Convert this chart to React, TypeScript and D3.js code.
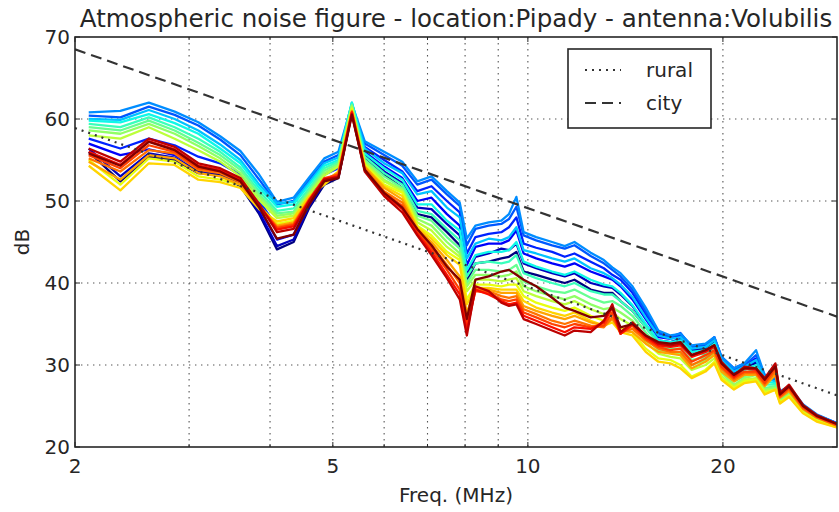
import React from "react";
import * as d3 from "d3";

const freqs = [2.1, 2.35, 2.6, 2.85, 3.1, 3.35, 3.6, 3.85, 4.1, 4.35, 4.6, 4.85, 5.1, 5.35,
  5.6, 6.0, 6.4, 6.75, 7.1, 7.5, 7.85, 8.05, 8.3, 8.7, 9.1, 9.35, 9.6, 9.85, 10.3, 10.9, 11.4, 11.8, 12.5, 13.1, 13.5, 13.9, 14.5, 15.2, 15.9,
  16.6, 17.2, 17.9, 18.8, 19.4, 19.9, 20.8, 21.6, 22.5, 23.2, 24.1, 24.5, 25.3, 26.6, 27.9, 30.0];

const s00 = [56.0, 52.4, 55.4, 55.0, 53.4, 53.2, 51.8, 48.4, 44.1, 45.0, 49.2, 52.0, 52.8, 60.8,
  55.2, 53.2, 51.6, 48.4, 48.0, 46.2, 44.6,
  40.2, 42.4, 42.6, 43.0, 43.2, 43.8, 41.4, 41.0, 40.4, 40.0, 40.4, 39.2, 38.8, 38.8, 37.8, 36.6, 34.6, 32.8,
  32.6, 33.0, 31.6, 32.0, 32.8, 30.4, 29.0, 29.8, 30.2, 28.2, 28.2, 26.4, 27.0, 24.9, 23.8, 22.8];
const s01 = [56.4, 53.0, 55.8, 55.3, 53.6, 53.4, 52.0, 48.6, 44.5, 45.3, 49.4, 52.2, 53.0, 61.0,
  55.6, 53.6, 52.2, 49.2, 49.0, 47.2, 45.8,
  41.0, 43.2, 43.6, 44.2, 44.0, 44.8, 42.4, 41.8, 41.2, 40.8, 41.2, 40.0, 39.6, 39.4, 38.6, 37.2, 34.9, 33.0,
  32.8, 33.2, 31.8, 32.2, 33.0, 30.6, 29.2, 29.8, 30.4, 28.4, 28.2, 26.5, 27.1, 25.0, 23.8, 22.8];
const s02 = [57.0, 55.6, 56.3, 55.6, 54.0, 53.6, 52.3, 49.0, 45.3, 45.9, 49.8, 52.5, 53.4, 61.2,
  56.0, 54.2, 52.8, 50.0, 50.4, 48.4, 47.0,
  42.2, 44.4, 44.8, 44.8, 45.2, 46.4, 43.6, 43.0, 42.4, 42.0, 42.4, 41.4, 40.8, 40.4, 39.6, 38.0, 35.6, 33.4,
  33.2, 33.6, 32.0, 32.4, 33.2, 30.8, 29.4, 30.0, 30.8, 28.6, 28.4, 26.6, 27.2, 25.1, 23.9, 22.9];
const s03 = [57.6, 56.4, 57.6, 56.8, 55.4, 54.6, 53.2, 50.0, 46.8, 47.3, 50.6, 53.2, 54.0, 61.4,
  56.6, 55.0, 53.6, 51.2, 51.8, 50.0, 48.6,
  43.6, 45.6, 46.0, 46.2, 46.8, 48.0, 44.8, 44.3, 43.8, 43.2, 43.6, 42.6, 41.8, 41.0, 40.4, 38.8, 36.2, 33.8,
  33.4, 33.8, 32.2, 32.4, 33.4, 31.0, 29.6, 30.2, 30.6, 28.8, 28.4, 26.7, 27.3, 25.1, 23.9, 22.9];
const s04 = [60.4, 60.2, 61.5, 60.5, 59.2, 57.5, 55.6, 52.6, 49.6, 50.0, 52.6, 54.8, 55.6, 61.5,
  57.0, 55.6, 54.3, 52.0, 52.6, 50.8, 49.4,
  44.6, 46.6, 47.0, 47.2, 47.8, 49.3, 45.8, 45.2, 44.6, 44.2, 44.6, 43.3, 42.4, 41.6, 40.8, 39.2, 36.6, 34.0,
  33.4, 33.9, 32.2, 32.4, 33.2, 30.8, 29.4, 30.0, 31.2, 28.6, 28.2, 26.6, 27.2, 25.0, 23.9, 22.8];
const s05 = [60.8, 61.0, 62.0, 60.9, 59.6, 57.9, 56.1, 53.2, 49.9, 50.4, 52.9, 55.2, 56.0, 61.8,
  57.3, 56.0, 54.8, 52.4, 53.0, 51.2, 49.8,
  45.4, 47.0, 47.4, 47.6, 48.4, 50.5, 46.2, 45.6, 45.0, 44.5, 45.0, 43.7, 42.8, 41.9, 41.2, 39.6, 37.0, 34.2,
  33.6, 33.8, 32.4, 32.6, 33.4, 31.0, 29.6, 30.2, 31.8, 28.8, 28.4, 26.8, 27.4, 25.2, 24.0, 22.9];
const s06 = [60.0, 59.9, 61.1, 60.0, 58.6, 56.9, 55.0, 52.0, 49.7, 49.9, 52.3, 54.6, 55.3, 62.0,
  56.4, 54.6, 53.4, 50.8, 51.2, 49.2, 48.0,
  43.0, 44.8, 45.4, 45.2, 45.6, 46.8, 44.0, 43.6, 43.0, 42.6, 43.0, 41.8, 41.2, 40.6, 39.8, 38.3, 35.8, 33.6,
  33.2, 33.4, 32.0, 32.2, 33.0, 30.6, 29.2, 29.8, 30.6, 28.4, 28.0, 26.4, 27.0, 24.9, 23.8, 22.8];
const s07 = [59.8, 59.6, 60.6, 59.5, 58.2, 56.4, 54.6, 51.6, 49.3, 49.6, 52.0, 54.3, 55.0, 62.0,
  55.8, 54.0, 52.6, 49.6, 49.6, 47.6, 46.4,
  41.6, 43.4, 43.8, 43.8, 44.0, 45.0, 42.6, 42.0, 41.4, 41.0, 41.4, 40.4, 39.8, 39.6, 38.8, 37.3, 35.0, 33.0,
  32.8, 33.0, 31.6, 31.8, 32.6, 30.2, 28.8, 29.4, 30.0, 28.0, 27.8, 26.2, 26.8, 24.8, 23.7, 22.8];
const s08 = [59.4, 59.0, 60.2, 59.0, 57.6, 56.0, 54.1, 51.2, 48.8, 49.1, 51.6, 54.0, 54.8, 61.8,
  55.4, 53.4, 52.0, 48.8, 48.4, 46.6, 45.2,
  40.8, 42.4, 42.6, 42.4, 42.6, 43.4, 41.2, 40.6, 40.0, 39.6, 40.0, 39.0, 38.6, 38.6, 37.8, 36.6, 34.6, 32.6,
  32.4, 32.6, 31.2, 31.4, 32.2, 29.8, 28.4, 29.0, 29.6, 27.6, 27.6, 26.0, 26.6, 24.6, 23.6, 22.7];
const s09 = [59.0, 58.6, 59.8, 58.6, 57.1, 55.6, 53.8, 50.8, 48.5, 48.7, 51.3, 53.7, 54.6, 61.7,
  55.0, 53.0, 51.6, 48.2, 47.6, 45.6, 44.2,
  40.0, 41.6, 41.6, 41.4, 41.6, 42.2, 40.2, 39.6, 39.0, 38.8, 39.2, 38.2, 37.6, 37.8, 37.2, 36.0, 34.0, 32.2,
  32.0, 32.0, 30.6, 31.0, 31.8, 29.4, 28.0, 28.6, 29.2, 27.2, 27.4, 25.8, 26.4, 24.5, 23.5, 22.6];
const s10 = [58.6, 58.2, 59.4, 58.2, 56.7, 55.2, 53.4, 50.5, 48.2, 48.5, 51.0, 53.4, 54.4, 61.6,
  54.8, 52.6, 51.4, 47.8, 47.0, 45.0, 43.6,
  39.6, 41.0, 41.0, 40.8, 41.0, 41.4, 39.6, 39.0, 38.4, 38.0, 38.4, 37.4, 36.8, 37.0, 36.4, 35.4, 33.4, 31.8,
  31.6, 31.4, 30.0, 30.6, 31.4, 29.0, 27.6, 28.4, 28.8, 27.0, 27.2, 25.6, 26.4, 24.4, 23.4, 22.5];
const s11 = [58.0, 57.6, 59.0, 57.6, 56.2, 54.8, 53.0, 50.1, 47.9, 48.2, 50.8, 53.1, 54.2, 61.4,
  54.6, 52.4, 51.2, 47.4, 46.4, 44.4, 43.2,
  39.0, 40.4, 40.4, 40.2, 40.4, 40.6, 39.0, 38.4, 37.8, 37.4, 37.8, 36.8, 36.2, 36.4, 35.6, 34.8, 32.8, 31.4,
  31.0, 30.8, 29.4, 30.0, 30.8, 28.6, 27.4, 28.2, 28.4, 26.8, 27.0, 25.5, 26.3, 24.3, 23.3, 22.5];
const s12 = [55.0, 52.0, 55.2, 54.8, 53.0, 52.6, 52.0, 49.4, 47.2, 47.6, 50.4, 52.2, 53.6, 61.2,
  54.4, 52.0, 51.0, 47.0, 45.8, 43.8, 42.8,
  38.0, 39.8, 39.8, 39.6, 39.8, 39.8, 38.4, 37.6, 37.0, 36.6, 37.0, 36.0, 35.4, 35.6, 34.6, 34.0, 32.0, 30.8,
  30.6, 30.0, 28.6, 29.4, 30.4, 28.4, 27.2, 28.0, 28.2, 26.6, 27.0, 25.4, 26.2, 24.2, 23.2, 22.4];
const s13 = [54.3, 51.3, 54.6, 54.4, 52.6, 52.3, 51.6, 49.0, 47.5, 47.9, 50.6, 52.0, 53.4, 61.0,
  54.2, 51.8, 50.6, 46.8, 45.4, 43.4, 42.2,
  37.4, 39.4, 39.4, 39.2, 39.2, 39.2, 37.8, 37.0, 36.4, 36.0, 36.4, 35.4, 34.8, 35.2, 34.0, 33.6, 31.6, 30.4,
  30.2, 29.6, 28.4, 29.2, 30.2, 28.2, 27.0, 27.8, 28.0, 26.4, 27.0, 25.3, 26.1, 24.1, 23.1, 22.4];
const s14 = [54.8, 52.6, 55.6, 55.2, 53.4, 53.0, 52.0, 49.2, 47.0, 47.4, 50.3, 52.4, 53.5, 61.0,
  54.2, 51.6, 50.2, 46.6, 45.0, 42.8, 40.8,
  36.4, 39.4, 39.2, 38.8, 38.8, 38.8, 37.2, 36.6, 36.0, 35.6, 36.0, 35.2, 34.8, 35.6, 34.2, 34.0, 32.6, 31.6,
  31.4, 31.2, 29.6, 30.4, 31.2, 29.2, 28.0, 28.8, 28.8, 27.4, 28.8, 26.0, 26.8, 24.6, 23.6, 22.6];
const s15 = [55.2, 53.6, 56.2, 55.8, 53.8, 53.4, 52.3, 49.4, 46.8, 47.2, 50.2, 52.6, 53.3, 60.9,
  54.0, 51.2, 49.8, 46.4, 44.6, 42.2, 40.0,
  35.6, 39.2, 39.0, 38.4, 38.2, 38.4, 36.8, 36.2, 35.4, 35.0, 35.4, 34.8, 34.6, 35.8, 34.0, 34.4, 33.0, 32.0,
  31.6, 31.6, 30.0, 30.8, 31.6, 29.6, 28.2, 29.0, 29.0, 27.6, 29.2, 26.1, 27.0, 24.7, 23.6, 22.6];
const s16 = [55.6, 54.0, 56.8, 56.0, 54.0, 53.6, 52.4, 49.3, 46.7, 47.1, 50.2, 52.8, 53.2, 60.8,
  53.8, 51.0, 49.4, 46.2, 44.2, 41.6, 39.2,
  35.0, 39.0, 38.8, 38.0, 37.8, 38.0, 36.4, 35.8, 35.0, 34.6, 35.0, 34.6, 34.8, 36.4, 33.8, 34.8, 33.2, 32.2,
  31.8, 32.0, 30.4, 31.2, 31.8, 29.8, 28.4, 29.2, 29.2, 27.8, 29.6, 26.2, 27.2, 24.8, 23.7, 22.7];
const s17 = [56.0, 54.4, 57.3, 56.3, 54.3, 53.8, 52.6, 49.5, 46.5, 46.9, 50.1, 52.7, 53.0, 60.8,
  53.8, 50.8, 49.0, 46.0, 43.8, 41.0, 38.6,
  34.2, 39.2, 38.6, 37.8, 37.4, 37.6, 36.0, 35.4, 34.6, 34.0, 34.6, 34.4, 35.2, 37.0, 33.8, 35.0, 33.4, 32.4,
  32.2, 32.4, 31.0, 31.6, 32.2, 30.2, 28.6, 29.6, 29.4, 28.2, 30.0, 26.4, 27.4, 25.0, 23.8, 22.8];
const s18 = [56.4, 54.8, 57.6, 56.6, 54.6, 54.0, 52.8, 49.6, 46.2, 46.6, 50.0, 52.6, 52.9, 60.6,
  53.6, 50.6, 48.6, 45.8, 43.4, 40.6, 38.0,
  33.6, 39.6, 39.0, 37.6, 37.2, 37.4, 35.6, 35.0, 34.2, 33.6, 34.2, 34.0, 35.4, 37.4, 34.0, 35.2, 33.6, 32.6,
  32.4, 32.6, 31.2, 31.8, 32.4, 30.4, 28.8, 29.8, 29.6, 28.4, 30.2, 26.6, 27.6, 25.1, 23.9, 22.8];
const s19 = [55.8, 54.3, 57.2, 56.2, 54.2, 53.6, 52.4, 49.2, 45.4, 45.9, 49.6, 52.4, 52.8, 60.5,
  53.8, 51.0, 49.2, 46.6, 44.6, 42.0, 40.4,
  35.6, 40.4, 40.8, 41.4, 41.6, 41.0, 40.4, 39.6, 38.2, 37.0, 36.6, 35.8, 36.0, 37.0, 34.6, 35.0, 33.6, 32.8,
  32.6, 32.8, 31.2, 31.8, 32.4, 30.2, 28.8, 29.6, 29.6, 28.2, 29.8, 26.4, 27.4, 25.0, 23.8, 22.8];

const seriesList = [s00, s01, s02, s03, s04, s05, s06, s07, s08, s09, s10, s11, s12, s13, s14, s15, s16, s17, s18, s19];

const refFreqs = [2, 30];
const ruralLevels = [58.9, 26.3];
const cityLevels = [68.5, 35.9];

const xMajorTicks = [2, 5, 10, 20];
const xMinorTicks = [3, 4, 6, 7, 8, 9];
const xGridValues = [3, 4, 5, 6, 7, 8, 9, 10, 20];
const yTicks = [20, 30, 40, 50, 60, 70];
const yGridValues = [30, 40, 50, 60];
const legendLabels = ["rural", "city"];
const titleText = "Atmospheric noise figure - location:Pipady - antenna:Volubilis";
const xLabel = "Freq. (MHz)";
const yLabel = "dB";

const W = 839;
const H = 512;
const M = { left: 75, right: 837, top: 37, bottom: 447 };
const FONT = "DejaVu Sans, sans-serif";

const jR = d3.scaleLinear().domain([0, 0.35, 0.66, 0.89, 1]).range([0, 0, 1, 1, 0.5]).clamp(true);
const jG = d3.scaleLinear().domain([0, 0.125, 0.375, 0.64, 0.91, 1]).range([0, 0, 1, 1, 0, 0]).clamp(true);
const jB = d3.scaleLinear().domain([0, 0.11, 0.34, 0.65, 1]).range([0.5, 1, 1, 0, 0]).clamp(true);
function jet(t: number): string {
  return d3.rgb(jR(t) * 255, jG(t) * 255, jB(t) * 255).formatHex();
}

export default function App() {
  const x = d3.scaleLog().domain([2, 30]).range([M.left, M.right]);
  const y = d3.scaleLinear().domain([20, 70]).range([M.bottom, M.top]);
  const line = d3
    .line<[number, number]>()
    .x((d) => x(d[0]))
    .y((d) => y(d[1]));
  const n = seriesList.length;
  const ink = "#262626";

  return (
    <svg width={W} height={H} style={{ position: "absolute", left: 0, top: 0, background: "#fff" }} fontFamily={FONT}>
      <defs>
        <clipPath id="plotclip">
          <rect x={M.left} y={M.top} width={M.right - M.left} height={M.bottom - M.top} />
        </clipPath>
      </defs>
      <rect x={0} y={0} width={W} height={H} fill="#fff" />
      <g stroke="#555" strokeWidth={1.1} strokeDasharray="1.4,4.6">
        {xGridValues.map((v) => (
          <line key={"gx" + v} x1={x(v)} x2={x(v)} y1={M.top} y2={M.bottom} />
        ))}
        {yGridValues.map((v) => (
          <line key={"gy" + v} x1={M.left} x2={M.right} y1={y(v)} y2={y(v)} />
        ))}
      </g>
      <g clipPath="url(#plotclip)" fill="none" strokeLinejoin="round">
        {seriesList.map((vals, i) => (
          <path
            key={"s" + i}
            d={line(freqs.map((f, k) => [f, vals[k]] as [number, number])) || ""}
            stroke={jet(i / (n - 1))}
            strokeWidth={2.3}
          />
        ))}
        <path
          d={line(refFreqs.map((f, k) => [f, ruralLevels[k]] as [number, number])) || ""}
          stroke="#333"
          strokeWidth={2.2}
          strokeDasharray="2,5"
          fill="none"
        />
        <path
          d={line(refFreqs.map((f, k) => [f, cityLevels[k]] as [number, number])) || ""}
          stroke="#333"
          strokeWidth={2.2}
          strokeDasharray="11,6"
          fill="none"
        />
      </g>
      <g stroke={ink} strokeWidth={1}>
        {xMajorTicks.map((v) => (
          <g key={"tx" + v}>
            <line x1={x(v)} x2={x(v)} y1={M.bottom} y2={M.bottom - 5} />
            <line x1={x(v)} x2={x(v)} y1={M.top} y2={M.top + 5} />
          </g>
        ))}
        {xMinorTicks.map((v) => (
          <g key={"tmx" + v}>
            <line x1={x(v)} x2={x(v)} y1={M.bottom} y2={M.bottom - 3} />
            <line x1={x(v)} x2={x(v)} y1={M.top} y2={M.top + 3} />
          </g>
        ))}
        {yTicks.map((v) => (
          <g key={"ty" + v}>
            <line x1={M.left} x2={M.left + 5} y1={y(v)} y2={y(v)} />
            <line x1={M.right} x2={M.right - 5} y1={y(v)} y2={y(v)} />
          </g>
        ))}
      </g>
      <rect
        x={M.left}
        y={M.top}
        width={M.right - M.left}
        height={M.bottom - M.top}
        fill="none"
        stroke={ink}
        strokeWidth={1.6}
      />
      <g fill={ink} fontSize={20}>
        {xMajorTicks.map((v) => (
          <text key={"lx" + v} x={x(v)} y={M.bottom + 26} textAnchor="middle">
            {String(v)}
          </text>
        ))}
        {yTicks.map((v) => (
          <text key={"ly" + v} x={M.left - 5} y={y(v) + 7} textAnchor="end">
            {String(v)}
          </text>
        ))}
      </g>
      <text x={(M.left + M.right) / 2} y={502} textAnchor="middle" fontSize={20} fill={ink}>
        {xLabel}
      </text>
      <text
        transform={`translate(29, ${(M.top + M.bottom) / 2}) rotate(-90)`}
        textAnchor="middle"
        fontSize={20}
        fill={ink}
      >
        {yLabel}
      </text>
      <text x={(M.left + M.right) / 2} y={27} textAnchor="middle" fontSize={24.5} fill={ink}>
        {titleText}
      </text>
      <g>
        <rect x={568} y={49} width={143} height={79} fill="#fff" stroke={ink} strokeWidth={1.6} />
        {legendLabels.map((lab, i) => {
          const ly = 70 + i * 33;
          return (
            <g key={"lg" + lab}>
              <line
                x1={585}
                x2={621}
                y1={ly}
                y2={ly}
                stroke="#333"
                strokeWidth={2.2}
                strokeDasharray={i === 0 ? "2,5" : "11,6"}
              />
              <text x={646} y={ly + 7} fontSize={20} fill={ink}>
                {lab}
              </text>
            </g>
          );
        })}
      </g>
    </svg>
  );
}
